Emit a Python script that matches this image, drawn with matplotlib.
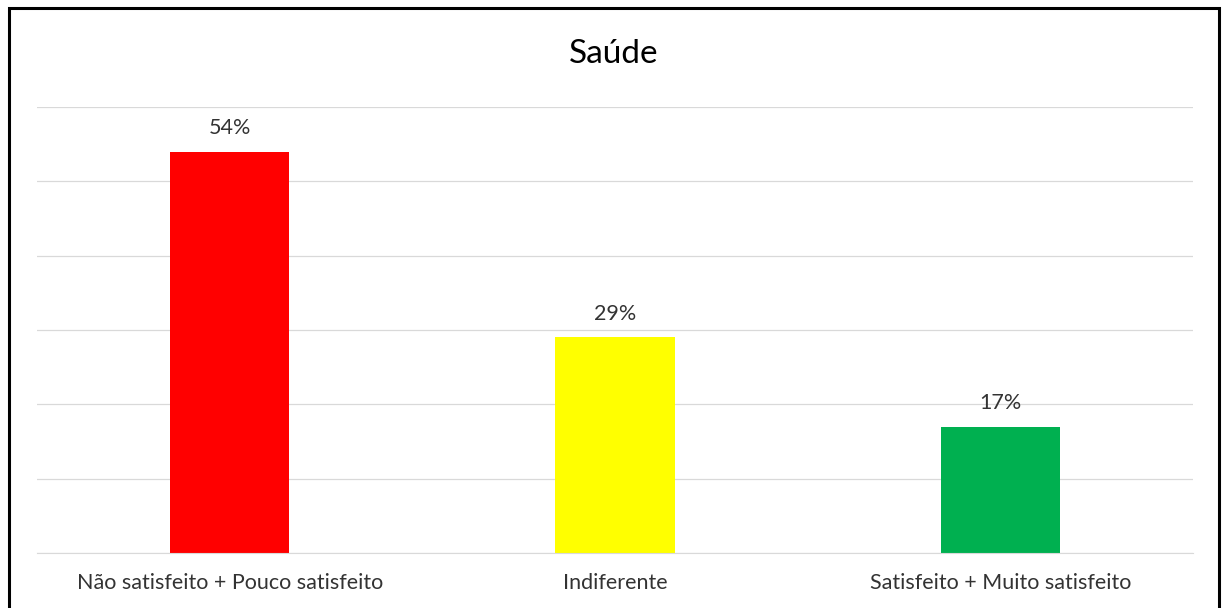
import matplotlib.pyplot as plt
import matplotlib.patches as patches

categories = ['Não satisfeito + Pouco satisfeito', 'Indiferente', 'Satisfeito + Muito satisfeito']
values = [54, 29, 17]
colors = ['#FF0000', '#FFFF00', '#00B050']

W, H = 1223, 608
fig = plt.figure(figsize=(W / 100, H / 100), dpi=100)
fig.patch.set_facecolor('white')
plt.rcParams['font.family'] = ['Lato', 'DejaVu Sans']

# outer frame, bottom edge falls outside the image
frame = patches.Rectangle((8.5 / W, -0.05), (1219 - 8.5) / W, 1.05 - 8.5 / H,
                          transform=fig.transFigure, fill=False,
                          edgecolor='black', linewidth=2.2)
fig.patches.append(frame)

ax = fig.add_axes([37 / W, 1 - 553 / H, (1193 - 37) / W, (553 - 107) / H])
x = range(len(categories))
bars = ax.bar(x, values, width=0.31, color=colors, zorder=2)

ax.set_xlim(-0.5, 2.5)
ax.set_ylim(0, 60)
ax.set_yticks(range(0, 61, 10))
ax.yaxis.grid(True, color='#D9D9D9', linewidth=0.9)
ax.tick_params(axis='y', left=False, labelleft=False)
ax.tick_params(axis='x', bottom=False, labelsize=15.5, labelcolor='#333333', pad=11)
ax.set_xticks(list(x))
ax.set_xticklabels(categories)
for s in ['top', 'right', 'left']:
    ax.spines[s].set_visible(False)
ax.spines['bottom'].set_color('#D9D9D9')

for b, v in zip(bars, values):
    ax.annotate(f'{v}%', (b.get_x() + b.get_width() / 2, v),
                xytext=(0, 10), textcoords='offset points',
                ha='center', va='bottom', fontsize=15.5, color='#333333')

fig.text(614 / W, 1 - 54 / H, 'Saúde', ha='center', va='center',
         fontsize=24, color='black')

fig.savefig('out.png', dpi=100)
